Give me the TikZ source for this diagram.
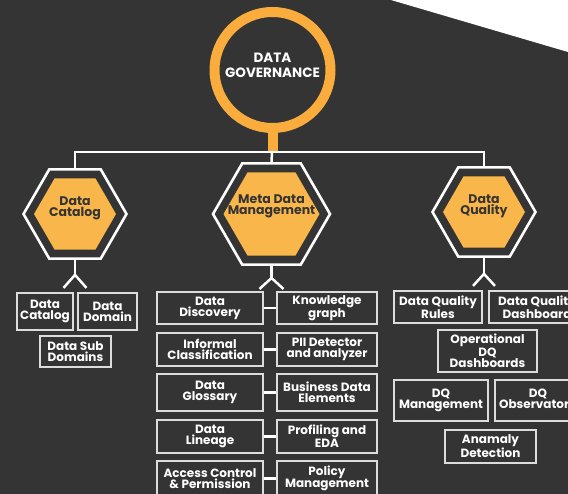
\documentclass[tikz,border=0pt]{standalone}
\usepackage{fontspec}
\setmainfont{Poppins}
\usetikzlibrary{shapes.geometric}
\definecolor{bg}{HTML}{333433}
\definecolor{ring}{HTML}{FAAD3D}
\definecolor{hexfill}{HTML}{F9B64B}
\definecolor{boxline}{HTML}{DCDCDC}
\definecolor{hextext}{HTML}{333433}
\begin{document}
\begin{tikzpicture}[x=1pt,y=-1pt,
  wire/.style={draw=white, line width=2.5pt},
  box/.style={draw=boxline, line width=1.3pt, text=white, align=center, inner sep=0pt,
    font=\fontsize{12}{10.8}\selectfont\bfseries},
  hexout/.style={regular polygon, regular polygon sides=6, draw=white, line width=2.6pt, inner sep=0pt},
  hexin/.style={regular polygon, regular polygon sides=6, fill=hexfill, inner sep=0pt},
  hextxt/.style={text=hextext, align=center, inner sep=0pt,
    font=\fontsize{12.5}{11.5}\selectfont\bfseries},
  govtxt/.style={text=white, align=center, inner sep=0pt,
    font=\fontsize{13.5}{15}\selectfont\bfseries}]
\useasboundingbox (0,0) rectangle (568,494);
\clip (0,0) rectangle (568,494);
\fill[bg] (0,0) rectangle (568,494);
\fill[white] (391,0) -- (568,52) -- (568,0) -- cycle;

% root
\node[circle, draw=ring, line width=10pt, minimum size=116pt, inner sep=0pt] (gov) at (272.5,70) {};
\node[govtxt] (govt) at (272.5,65.5) {DATA\\GOVERNANCE};
\coordinate (bus) at (272,152);
\draw[ring, line width=10pt] (gov.south) -- (gov.south |- bus);

% hexagons
\node[hexout, minimum size=103pt] (h1) at (75,214) {};
\node[hexin, minimum size=82pt] (h1i) at (75,214) {};
\node[hextxt] (h1t) at (75,208.5) {Data\\Catalog};

\node[hexout, minimum size=117pt] (h2) at (271.5,214) {};
\node[hexin, minimum size=96pt] (h2i) at (271.5,214) {};
\node[hextxt] (h2t) at (271.5,206.5) {Meta Data\\Management};

\node[hexout, minimum size=103pt] (h3) at (484,212) {};
\node[hexin, minimum size=82pt] (h3i) at (484,212) {};
\node[hextxt] (h3t) at (484,206.5) {Data\\Quality};

% bus
\draw[wire] (h1.north) -- (h1.north |- bus) -- (h3.north |- bus) -- (h3.north);
\draw[wire] (bus) -- (h2.north);

% forks
\path (h1.south) ++(0,15) coordinate (f1) ++(-11.5,13) coordinate (f1a) ++(23,0) coordinate (f1b);
\draw[wire] (h1.south) -- (f1);
\draw[wire] (f1a) -- (f1) -- (f1b);
\path (h2.south) ++(0,12) coordinate (f2) ++(-12,11) coordinate (f2a) ++(24,0) coordinate (f2b);
\draw[wire] (h2.south) -- (f2);
\draw[wire] (f2a) -- (f2) -- (f2b);
\path (h3.south) ++(0,16) coordinate (f3) ++(-11,12) coordinate (f3a) ++(22,0) coordinate (f3b);
\draw[wire] (h3.south) -- (f3);
\draw[wire] (f3a) -- (f3) -- (f3b);

% left boxes
\node[box, minimum width=56pt, minimum height=37pt] (lb1) at (45,311.5) {Data\\Catalog};
\node[box, minimum width=59pt, minimum height=37pt] (lb2) at (107.5,311.5) {Data\\Domain};
\node[box, minimum width=71pt, minimum height=31pt] (lb3) at (75.5,351.5) {Data Sub\\Domains};

% middle boxes
\node[box, minimum width=106pt, minimum height=32pt] (ml1) at (210,308) {Data\\Discovery};
\node[box, minimum width=100pt, minimum height=32pt] (mr1) at (327,308) {Knowledge\\graph};
\node[box, minimum width=106pt, minimum height=33pt] (ml2) at (210,349.5) {Informal\\Classification};
\node[box, minimum width=100pt, minimum height=33pt] (mr2) at (327,349.5) {PII Detector\\and analyzer};
\node[box, minimum width=106pt, minimum height=37pt] (ml3) at (210,392.5) {Data\\Glossary};
\node[box, minimum width=100pt, minimum height=37pt] (mr3) at (327,392.5) {Business Data\\Elements};
\node[box, minimum width=106pt, minimum height=33pt] (ml4) at (210,436.5) {Data\\Lineage};
\node[box, minimum width=100pt, minimum height=33pt] (mr4) at (327,436.5) {Profiling and\\EDA};
\node[box, minimum width=106pt, minimum height=35pt] (ml5) at (210,478.5) {Access Control\\\& Permission};
\node[box, minimum width=100pt, minimum height=35pt] (mr5) at (327,478.5) {Policy\\Management};
\foreach \i in {1,...,5} \draw[wire] (ml\i.east) -- (mr\i.west);

% right boxes
\node[box, minimum width=88pt, minimum height=32pt] (rb1) at (438,307) {Data Quality\\Rules};
\node[box, minimum width=96pt, minimum height=32pt] (rb2) at (537,307) {Data Quality\\Dashboard};
\node[box, minimum width=99pt, minimum height=42pt] (rb3) at (487.5,351) {Operational\\DQ\\Dashboards};
\node[box, minimum width=94pt, minimum height=41pt] (rb4) at (441,400.5) {DQ\\Management};
\node[box, minimum width=86pt, minimum height=41pt] (rb5) at (538,400.5) {DQ\\Observatory};
\node[box, minimum width=91pt, minimum height=33pt] (rb6) at (490.5,446.5) {Anamaly\\Detection};
\end{tikzpicture}
\end{document}
